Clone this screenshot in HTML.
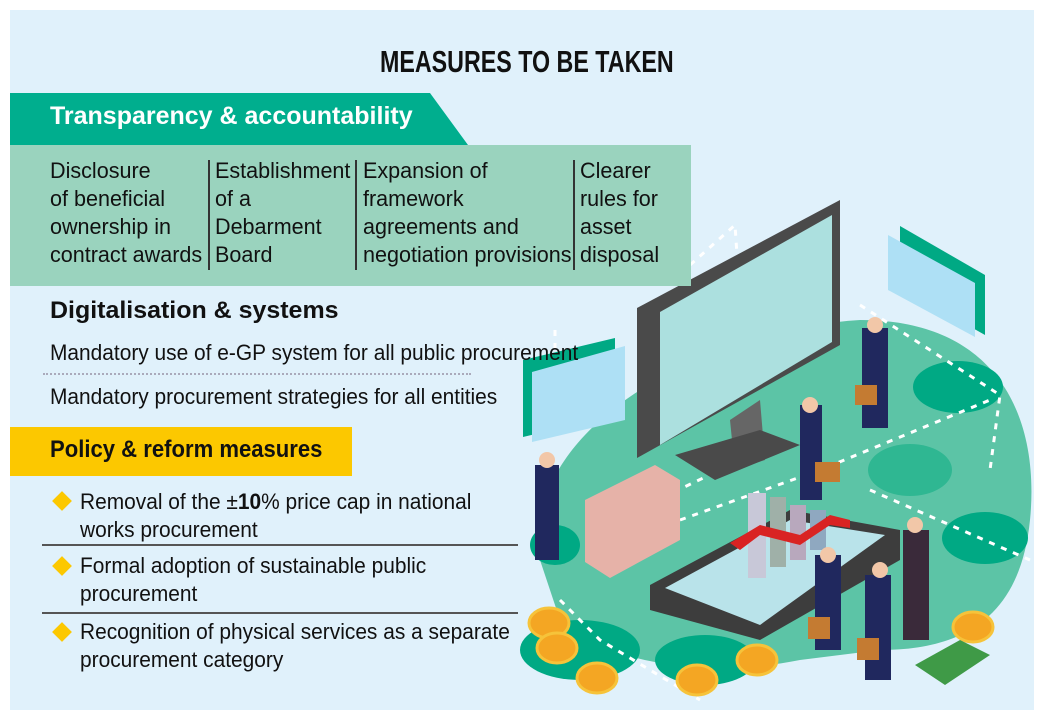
<!DOCTYPE html>
<html><head><meta charset="utf-8"><style>
*{margin:0;padding:0;box-sizing:border-box}
body{width:1045px;height:720px;background:#fff;position:relative;overflow:hidden;font-family:"Liberation Sans Narrow","Liberation Sans",sans-serif;color:#111}
.p{position:absolute;left:10px;top:10px;width:1024px;height:700px;background:#e0f1fb}
.a{position:absolute;white-space:nowrap;transform-origin:0 0}
.t{font-size:22px;line-height:28px;transform:scaleX(.95)}
.c{transform:scaleX(.98)}
.b{font-weight:bold}
.v{position:absolute;width:1.5px;background:#333;top:160px;height:110px}
.d{position:absolute;width:14px;height:14px;background:#fcc800;transform:rotate(45deg);left:55px}
.hl{position:absolute;left:42px;width:476px;height:1.5px;background:#555}
</style></head><body>
<div class="p"></div>
<svg style="position:absolute;left:0;top:0" width="1045" height="720">
<path d="M540 560 C520 430 700 330 860 320 C1000 320 1040 420 1030 520 C1020 620 960 650 880 650 L800 660 C700 680 600 660 560 620 Z" fill="#5cc4a6"/>
<ellipse cx="958" cy="387" rx="45" ry="26" fill="#00a984"/>
<ellipse cx="910" cy="470" rx="42" ry="26" fill="#2fb792"/>
<ellipse cx="985" cy="538" rx="43" ry="26" fill="#00a984"/>
<ellipse cx="555" cy="545" rx="25" ry="20" fill="#00a984"/>
<ellipse cx="580" cy="650" rx="60" ry="30" fill="#00a984"/>
<ellipse cx="705" cy="660" rx="50" ry="25" fill="#00a984"/>
<g stroke="#fff" stroke-width="3" stroke-dasharray="6 7" fill="none">
<path d="M690 265 L735 225 L740 300"/>
<path d="M555 330 L555 420"/>
<path d="M860 305 L1000 395 L990 470"/>
<path d="M560 600 L600 640 L700 700"/>
<path d="M680 520 L820 470 L990 400"/>
<path d="M870 490 L1030 560"/>
<path d="M615 520 L720 470"/>
</g>
<path d="M900 226 L985 275 L985 335 L900 287 Z" fill="#00a984"/>
<path d="M888 235 L975 283 L975 337 L888 290 Z" fill="#aee0f5"/>
<path d="M523 360 L615 338 L615 415 L523 437 Z" fill="#00a984"/>
<path d="M532 372 L625 346 L625 420 L532 442 Z" fill="#aee0f5"/>
<path d="M637 308 L840 200 L840 345 L637 458 Z" fill="#4a4a4a"/>
<path d="M660 312 L832 215 L832 342 L660 445 Z" fill="#ace0df"/>
<path d="M730 420 L760 400 L765 460 L735 470 Z" fill="#666"/>
<path d="M675 455 L760 430 L800 445 L715 480 Z" fill="#4a4a4a"/>
<path d="M650 585 L790 510 L900 530 L900 560 L760 640 L650 610 Z" fill="#3d3d3d"/>
<path d="M665 588 L790 520 L885 535 L760 625 Z" fill="#b9e3ea"/>
<rect x="748" y="493" width="18" height="85" fill="#c8c8d8"/>
<rect x="770" y="497" width="16" height="70" fill="#9fb0a8"/>
<rect x="790" y="505" width="16" height="55" fill="#b8a8bd"/>
<rect x="810" y="510" width="16" height="40" fill="#8fa8c0"/>
<path d="M730 543 L760 525 L800 535 L830 515 L850 520 L850 528 L830 525 L800 545 L760 535 L740 550 Z" fill="#d92323"/>
<path d="M585 500 L655 465 L680 480 L680 540 L610 578 L585 562 Z" fill="#e6b2a8"/>
<g fill="#20285e">
<rect x="862" y="328" width="26" height="100"/>
<rect x="800" y="405" width="22" height="95"/>
<rect x="535" y="465" width="24" height="95"/>
<rect x="815" y="555" width="26" height="95"/>
<rect x="865" y="575" width="26" height="105"/>
</g>
<rect x="903" y="530" width="26" height="110" fill="#3a2a3a"/>
<g fill="#f2c7a8"><circle cx="875" cy="325" r="8"/><circle cx="810" cy="405" r="8"/><circle cx="547" cy="460" r="8"/><circle cx="828" cy="555" r="8"/><circle cx="880" cy="570" r="8"/><circle cx="915" cy="525" r="8"/></g>
<g fill="#c47b32"><rect x="855" y="385" width="22" height="20"/><rect x="815" y="462" width="25" height="20"/><rect x="808" y="617" width="22" height="22"/><rect x="857" y="638" width="22" height="22"/></g>
<g fill="#f4a623" stroke="#f6c33a" stroke-width="3">
<ellipse cx="549" cy="623" rx="20" ry="15"/><ellipse cx="557" cy="648" rx="20" ry="15"/>
<ellipse cx="597" cy="678" rx="20" ry="15"/><ellipse cx="697" cy="680" rx="20" ry="15"/>
<ellipse cx="757" cy="660" rx="20" ry="15"/><ellipse cx="973" cy="627" rx="20" ry="15"/>
</g>
<path d="M915 665 L960 640 L990 655 L945 685 Z" fill="#3f9a47"/>
</svg>

<div class="a b" style="left:380px;top:44px;font-size:31px;transform:scaleX(.75)">MEASURES TO BE TAKEN</div>
<svg style="position:absolute;left:10px;top:93px" width="460" height="53"><path d="M0 0 L420 0 L458 52 L0 52 Z" fill="#00ae8e"/></svg>
<div class="a b" style="left:50px;top:102px;font-size:25px;color:#fff;transform:scaleX(1)">Transparency &amp; accountability</div>
<div style="position:absolute;left:10px;top:145px;width:681px;height:141px;background:#9ad3be"></div>
<div class="a t c" style="left:50px;top:157px">Disclosure<br>of beneficial<br>ownership in<br>contract awards</div>
<div class="v" style="left:208px"></div>
<div class="a t c" style="left:215px;top:157px">Establishment<br>of a<br>Debarment<br>Board</div>
<div class="v" style="left:355px"></div>
<div class="a t c" style="left:363px;top:157px">Expansion of<br>framework<br>agreements and<br>negotiation provisions</div>
<div class="v" style="left:573px"></div>
<div class="a t c" style="left:580px;top:157px">Clearer<br>rules for<br>asset<br>disposal</div>

<div class="a b" style="left:50px;top:297px;font-size:24px;transform:scaleX(1.04)">Digitalisation &amp; systems</div>
<div class="a t" style="left:50px;top:339px">Mandatory use of e-GP system for all public procurement</div>
<div style="position:absolute;left:43px;top:373px;width:428px;border-top:2px dotted #aab"></div>
<div class="a t" style="left:50px;top:383px">Mandatory procurement strategies for all entities</div>

<div style="position:absolute;left:10px;top:427px;width:342px;height:49px;background:#fcc800"></div>
<div class="a b" style="left:50px;top:436px;font-size:24px;transform:scaleX(.92)">Policy &amp; reform measures</div>

<div class="d" style="top:494px"></div>
<div class="a t" style="left:80px;top:488px">Removal of the ±<b>10</b>% price cap in national<br>works procurement</div>
<div class="hl" style="top:544px"></div>
<div class="d" style="top:559px"></div>
<div class="a t" style="left:80px;top:552px">Formal adoption of sustainable public<br>procurement</div>
<div class="hl" style="top:612px"></div>
<div class="d" style="top:625px"></div>
<div class="a t" style="left:80px;top:618px">Recognition of physical services as a separate<br>procurement category</div>
</body></html>
